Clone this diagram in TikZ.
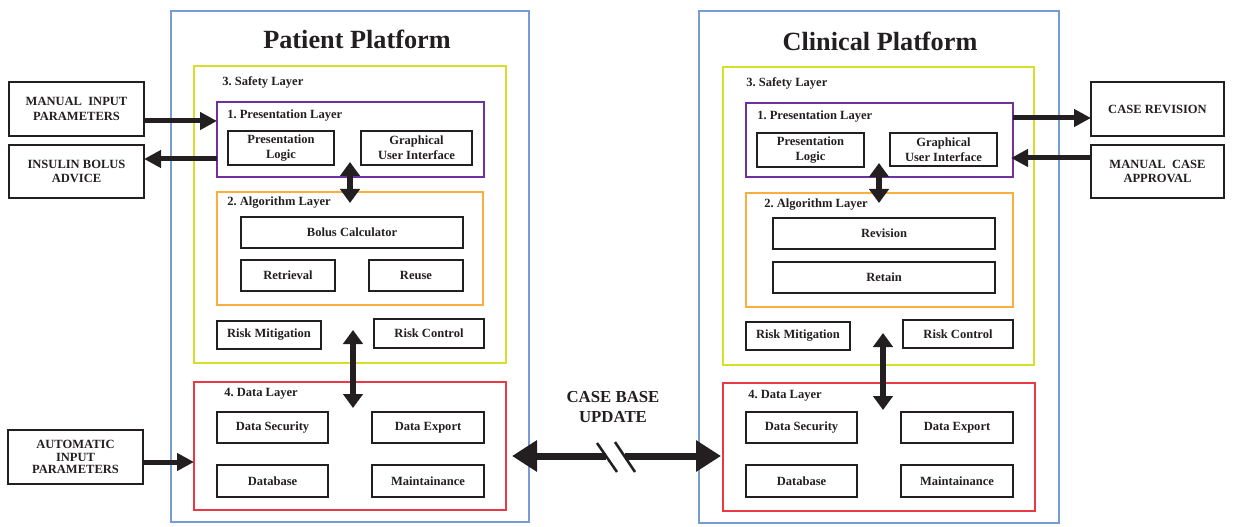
\documentclass[tikz,border=0pt]{standalone}
\usepackage{fontspec}
\setmainfont{Liberation Serif}
\usetikzlibrary{arrows.meta}
\definecolor{ink}{RGB}{35,31,32}
\definecolor{platblue}{RGB}{118,156,214}
\definecolor{safeyel}{RGB}{214,224,44}
\definecolor{prespur}{RGB}{112,48,160}
\definecolor{algoorg}{RGB}{250,174,62}
\definecolor{datared}{RGB}{232,58,68}

% box given by its corners (x1,y1)-(x2,y2) in pixel units
\newcommand\putbox[7]{%
  \node[#1,minimum width={(#5-#3)*0.75pt},minimum height={(#6-#4)*0.75pt}]
    (#2) at ({(#3+#5)/2},{(#4+#6)/2}) {#7};}

\begin{document}
\frenchspacing
\begin{tikzpicture}[x=0.75pt,y=-0.75pt,
  frame/.style={draw,line width=2pt,inner sep=0pt,outer sep=0pt},
  blk/.style={draw=ink,line width=1.5pt,inner sep=0pt,outer sep=0pt,text=ink,
    align=center,font=\bfseries\fontsize{9.4}{11.2}\selectfont},
  ext/.style={blk,line width=2pt,font=\bfseries\fontsize{9.4}{10.7}\selectfont},
  lbl/.style={anchor=west,inner sep=0pt,text=ink,font=\bfseries\fontsize{9.4}{11}\selectfont},
  title/.style={inner sep=0pt,text=ink,font=\bfseries\fontsize{19.7}{23}\selectfont},
  arr/.style={draw=ink,line width=3.75pt,-{Triangle[length=12.75pt,width=12.75pt]}},
  dbl/.style={draw=ink,line width=4.8pt,
    {Triangle[length=10.5pt,width=14.5pt]}-{Triangle[length=10.5pt,width=14.5pt]}},
  big/.style={draw=ink,line width=5.25pt,-{Triangle[length=18.75pt,width=22.5pt]}},
  brk/.style={draw=ink,line width=1.9pt}]

\useasboundingbox (0,0) rectangle (1235,527);

% ---------------- Patient platform ----------------
\putbox{frame,draw=platblue}{platL}{171}{11}{529}{522}{}
\node[title] (titleL) at (357,39) {Patient Platform};
\putbox{frame,draw=safeyel}{safeL}{194}{66}{506}{363}{}
\node[lbl] (safeLbl) at (222,82) {3. Safety Layer};
\putbox{frame,draw=prespur}{presL}{217}{102}{484}{177}{}
\node[lbl] (presLbl) at (227,116) {1. Presentation Layer};
\putbox{blk}{plogL}{228}{131}{334}{165}{Presentation\\Logic}
\putbox{blk}{guiL}{361}{131}{472}{165}{Graphical\\User Interface}
\putbox{frame,draw=algoorg}{algoL}{217}{192}{483}{305}{}
\node[lbl] (algoLbl) at (227,203) {2. Algorithm Layer};
\putbox{blk}{bolus}{241}{217}{463}{248}{Bolus Calculator}
\putbox{blk}{retr}{241}{260}{335}{291}{Retrieval}
\putbox{blk}{reuse}{369}{260}{463}{291}{Reuse}
\putbox{blk}{riskML}{217}{321}{321}{349}{Risk Mitigation}
\putbox{blk}{riskCL}{374}{319}{484}{348}{Risk Control}
\putbox{frame,draw=datared}{dataL}{194}{382}{506}{510}{}
\node[lbl] (dataLbl) at (224,394) {4. Data Layer};
\putbox{blk}{dsecL}{217}{412}{328}{443}{Data Security}
\putbox{blk}{dexpL}{372}{412}{484}{443}{Data Export}
\putbox{blk}{dbL}{217}{465}{328}{497}{Database}
\putbox{blk}{maintL}{372}{465}{484}{497}{Maintainance}

% ---------------- Clinical platform ----------------
\putbox{frame,draw=platblue}{platR}{699}{11}{1059}{523}{}
\node[title] (titleR) at (880,41) {Clinical Platform};
\putbox{frame,draw=safeyel}{safeR}{723}{67}{1034}{365}{}
\node[lbl] (safeRbl) at (746,83) {3. Safety Layer};
\putbox{frame,draw=prespur}{presR}{746}{103}{1013}{177}{}
\node[lbl] (presRbl) at (757,117) {1. Presentation Layer};
\putbox{blk}{plogR}{757}{133}{864}{167}{Presentation\\Logic}
\putbox{blk}{guiR}{890}{133}{997}{166}{Graphical\\User Interface}
\putbox{frame,draw=algoorg}{algoR}{746}{193}{1013}{307}{}
\node[lbl] (algoRbl) at (764,205) {2. Algorithm Layer};
\putbox{blk}{revis}{773}{218}{995}{249}{Revision}
\putbox{blk}{retain}{773}{262}{995}{293}{Retain}
\putbox{blk}{riskMR}{746}{322}{850}{350}{Risk Mitigation}
\putbox{blk}{riskCR}{903}{320}{1013}{348}{Risk Control}
\putbox{frame,draw=datared}{dataR}{723}{383}{1035}{511}{}
\node[lbl] (dataRbl) at (748,396) {4. Data Layer};
\putbox{blk}{dsecR}{746}{412}{857}{443}{Data Security}
\putbox{blk}{dexpR}{901}{412}{1013}{443}{Data Export}
\putbox{blk}{dbR}{746}{465}{857}{497}{Database}
\putbox{blk}{maintR}{901}{465}{1013}{497}{Maintainance}

% ---------------- external inputs and outputs ----------------
\putbox{ext}{manIn}{9}{82}{144}{136}{MANUAL~~INPUT\\PARAMETERS}
\putbox{ext}{advice}{9}{145}{144}{198}{INSULIN BOLUS\\ADVICE}
\putbox{ext,font=\bfseries\fontsize{9.4}{9.6}\selectfont}{autoIn}{8}{430}{143}{484}{AUTOMATIC\\INPUT\\PARAMETERS}
\putbox{ext}{caseRev}{1091}{82}{1224}{136}{CASE REVISION}
\putbox{ext}{approve}{1091}{145}{1224}{198}{MANUAL~~CASE\\APPROVAL}

% ---------------- connectors ----------------
\coordinate (rowA) at (0,121);
\coordinate (rowB) at (0,159);
\coordinate (rowC) at (0,118);
\coordinate (rowD) at (0,158);
\coordinate (rowE) at (0,462);
\draw[arr] (manIn.east |- rowA) -- (presL.west |- rowA);
\draw[arr] (presL.west |- rowB) -- (advice.east |- rowB);
\draw[arr] (presR.east |- rowC) -- (caseRev.west |- rowC);
\draw[arr,shorten >=-1.5pt] (approve.west |- rowD) -- (presR.east |- rowD);
\draw[arr] (autoIn.east |- rowE) -- (dataL.west |- rowE);

% links between layers
\coordinate (upLa) at (350,162);
\coordinate (upLb) at (350,203);
\coordinate (loLa) at (353,330);
\coordinate (loLb) at (353,408);
\coordinate (upRa) at (879,163);
\coordinate (upRb) at (879,203);
\coordinate (loRa) at (883,333);
\coordinate (loRb) at (883,410);
\draw[dbl] (upLa) -- (upLb);
\draw[dbl] (loLa) -- (loLb);
\draw[dbl] (upRa) -- (upRb);
\draw[dbl] (loRa) -- (loRb);

% case base update between the two data layers
\node[inner sep=0pt,text=ink,align=center,font=\bfseries\fontsize{12.6}{15}\selectfont]
  (cbu) at (613,407) {CASE BASE\\UPDATE};
\coordinate (brkA) at (606,456);
\coordinate (brkB) at (625,456);
\draw[big,shorten >=4.5pt] (brkA) -- (dataL.east |- brkA);
\draw[big,shorten >=1.5pt] (brkB) -- (dataR.west |- brkB);
\draw[brk] (597,443) -- (617,472);
\draw[brk] (615,442) -- (635,472);
\end{tikzpicture}
\end{document}
